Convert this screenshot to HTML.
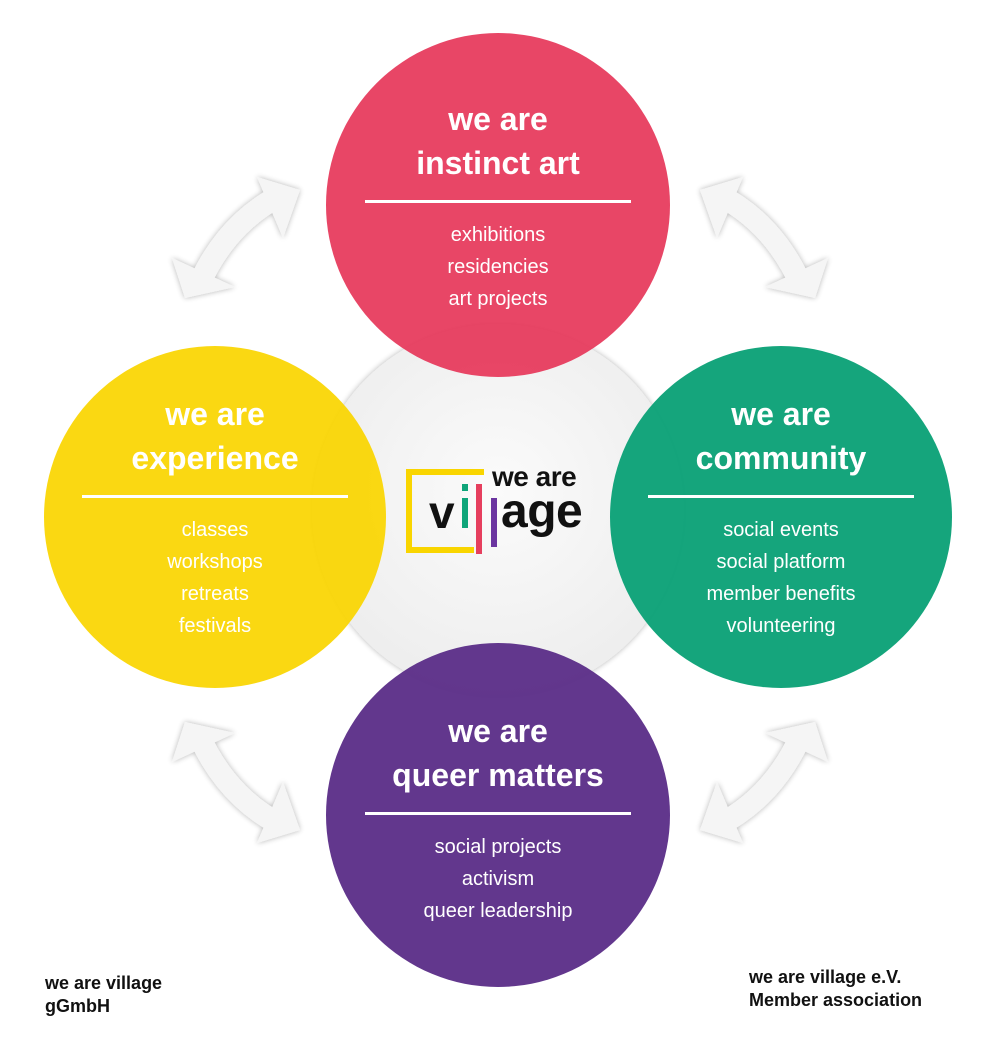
<!DOCTYPE html>
<html><head><meta charset="utf-8"><style>
body{margin:0;background:#fff;}
#c{position:relative;width:1000px;height:1050px;overflow:hidden;font-family:"Liberation Sans",sans-serif;}
.circ{position:absolute;border-radius:50%;color:#fff;text-align:center;}
.h{font-weight:bold;font-size:32px;line-height:44px;}
.line{height:3px;background:#fff;margin:0 auto;}
.l{font-size:20px;line-height:32px;}
.foot{position:absolute;font-weight:bold;font-size:18px;line-height:23px;color:#111;}
</style></head><body><div id="c">
<svg width="1000" height="1050" style="position:absolute;left:0;top:0">
<defs>
<filter id="sh" x="-20%" y="-20%" width="140%" height="140%"><feGaussianBlur in="SourceAlpha" stdDeviation="3"/><feComponentTransfer><feFuncA type="linear" slope="0.3"/></feComponentTransfer><feMerge><feMergeNode/><feMergeNode in="SourceGraphic"/></feMerge></filter>
<radialGradient id="cg" cx="50%" cy="45%" r="60%"><stop offset="0" stop-color="#fbfbfb"/><stop offset="1" stop-color="#ececec"/></radialGradient>
<g id="arr" filter="url(#sh)">
<path d="M203,276 Q228,226 272,200" fill="none" stroke="#f5f5f5" stroke-width="22"/>
<polygon points="172,258 185,298 235,287" fill="#f5f5f5"/>
<polygon points="257,177 300,190 283,238" fill="#f5f5f5"/>
</g>
</defs>
<use href="#arr"/>
<use href="#arr" transform="translate(1000,0) scale(-1,1)"/>
<use href="#arr" transform="translate(0,1020) scale(1,-1)"/>
<use href="#arr" transform="translate(1000,1020) scale(-1,-1)"/>
<circle cx="498" cy="510" r="186" fill="url(#cg)" filter="url(#sh)"/>
</svg>
<div class="circ" style="left:326px;top:33px;width:344px;height:344px;background:rgba(230,56,90,0.93)">
<div class="h" style="margin-top:64px">we are<br>instinct art</div>
<div class="line" style="width:266px;margin-top:15px"></div>
<div class="l" style="margin-top:16px">exhibitions<br>residencies<br>art projects</div></div>
<div class="circ" style="left:44px;top:346px;width:342px;height:342px;background:rgba(250,213,0,0.93)">
<div class="h" style="margin-top:46px">we are<br>experience</div>
<div class="line" style="width:266px;margin-top:15px"></div>
<div class="l" style="margin-top:16px">classes<br>workshops<br>retreats<br>festivals</div></div>
<div class="circ" style="left:610px;top:346px;width:342px;height:342px;background:rgba(8,160,117,0.95)">
<div class="h" style="margin-top:46px">we are<br>community</div>
<div class="line" style="width:266px;margin-top:15px"></div>
<div class="l" style="margin-top:16px">social events<br>social platform<br>member benefits<br>volunteering</div></div>
<div class="circ" style="left:326px;top:643px;width:344px;height:344px;background:rgba(90,44,135,0.95)">
<div class="h" style="margin-top:66px">we are<br>queer matters</div>
<div class="line" style="width:266px;margin-top:15px"></div>
<div class="l" style="margin-top:16px">social projects<br>activism<br>queer leadership</div></div>
<!-- logo -->
<div style="position:absolute;left:406px;top:469px;width:62px;height:72px;border:6px solid #f9d500;border-right:none"></div>
<div style="position:absolute;left:462px;top:469px;width:22px;height:6px;background:#f9d500"></div>
<div style="position:absolute;left:462px;top:547px;width:10px;height:6px;background:#f9d500"></div>
<div style="position:absolute;left:492px;top:461px;font-weight:bold;font-size:28px;color:#111;letter-spacing:-0.5px">we are</div>
<div style="position:absolute;left:429px;top:485px;font-weight:bold;font-size:46px;color:#111;">v</div>
<div style="position:absolute;left:462px;top:484px;width:6px;height:7px;background:#0fa57a"></div>
<div style="position:absolute;left:462px;top:498px;width:6px;height:30px;background:#0fa57a"></div>
<div style="position:absolute;left:476px;top:484px;width:6px;height:70px;background:#e63f5e"></div>
<div style="position:absolute;left:491px;top:498px;width:6px;height:49px;background:#6b35a0"></div>
<div style="position:absolute;left:501px;top:484px;font-weight:bold;font-size:48px;color:#111;letter-spacing:-0.5px">age</div>
<div class="foot" style="left:45px;top:972px">we are village<br>gGmbH</div>
<div class="foot" style="left:749px;top:966px">we are village e.V.<br>Member association</div>
</div></body></html>
